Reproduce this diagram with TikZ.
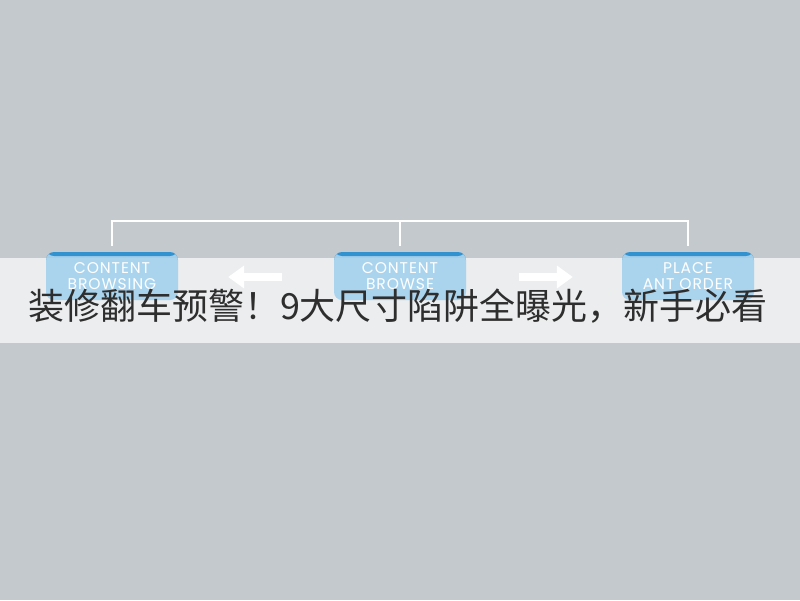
\documentclass[tikz,border=0pt]{standalone}
\usepackage{fontspec}
\setsansfont{Poppins}
\newfontfamily\cjk{Noto Sans CJK SC}
\usetikzlibrary{arrows.meta}
\definecolor{backgrey}{HTML}{C3C9CC}
\definecolor{boxblue}{HTML}{9FD0EE}
\definecolor{boxtop}{HTML}{1F88CC}
\definecolor{titlegrey}{HTML}{2E2E2E}
\tikzset{
    stagebox/.style={rounded corners=8pt, fill=boxblue, fill opacity=0.85, text opacity=1,
        minimum width=132pt, minimum height=48pt, inner sep=0pt, text=white,
        font=\sffamily\fontsize{15.5}{15.5}\selectfont\addfontfeatures{LetterSpace=6}, align=center,
        path picture={\fill[boxtop] (path picture bounding box.north west)
            rectangle ([yshift=-4pt]path picture bounding box.north east);}},
    bracket/.style={white, line width=2.5pt},
    flow/.style={white, line width=8pt, -{Triangle[length=16pt, width=22pt]}},
}
\begin{document}
\begin{tikzpicture}[x=1pt, y=-1pt]
    \fill [backgrey] (0, 0) rectangle (800, 600);
    \useasboundingbox (0, 0) rectangle (800, 600);

    \coordinate (t2) at (400, 221);

    % band behind the boxes
    \fill [white, opacity=0.68] (0, 258) rectangle (800, 343);

    \node [stagebox] (browsing) at (112, 276) {CONTENT\\BROWSING};
    \node [stagebox] (browse) at (400, 276) {CONTENT\\BROWSE};
    \node [stagebox] (order) at (688, 276) {PLACE\\ANT ORDER};

    \draw [bracket] ([yshift=6pt]browsing.north) |- (t2) -| ([yshift=6pt]order.north);
    \draw [bracket] ([yshift=6pt]browse.north) -- (t2);

    \draw [flow, shorten <=52pt, shorten >=50pt] ([yshift=-1pt]browse.west) -- ([yshift=-1pt]browsing.east);
    \draw [flow, shorten <=53pt, shorten >=49pt] ([yshift=-1pt]browse.east) -- ([yshift=-1pt]order.west);

    \node [text=titlegrey, font=\cjk\fontsize{36}{40}\selectfont, inner sep=0pt] (title) at (398, 306)
        {装修翻车预警！9大尺寸陷阱全曝光，新手必看};
\end{tikzpicture}
\end{document}
